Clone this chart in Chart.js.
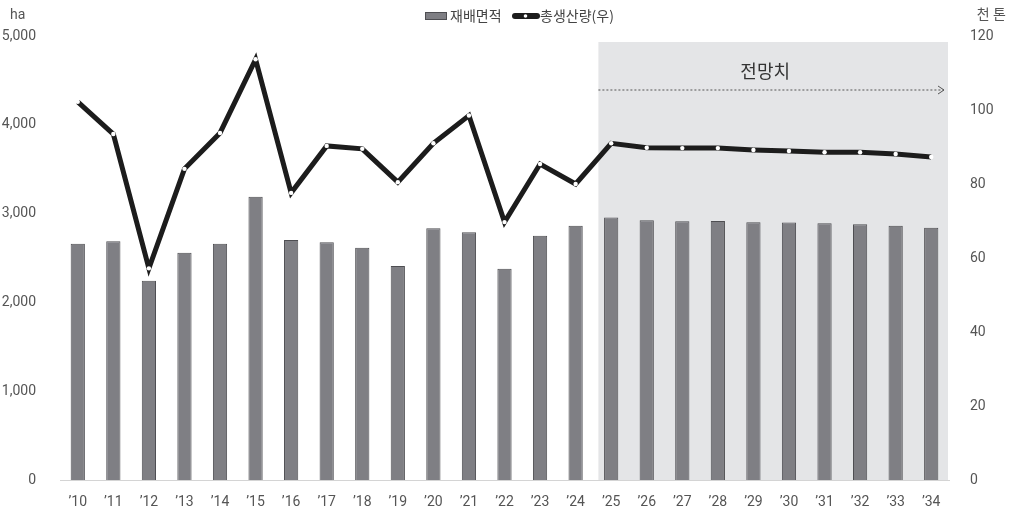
<!DOCTYPE html>
<html>
<head>
<meta charset="utf-8">
<script src="https://cdn.jsdelivr.net/npm/chart.js@4"></script>
<style>
  html, body { margin: 0; padding: 0; background: #fff; }
  #wrap { width: 1017px; height: 508px; }
</style>
</head>
<body>
<div id="wrap"><canvas id="chart1"></canvas></div>
<script>
var years = ["'10", "'11", "'12", "'13", "'14", "'15", "'16", "'17", "'18", "'19", "'20", "'21",
             "'22", "'23", "'24", "'25", "'26", "'27", "'28", "'29", "'30", "'31", "'32", "'33", "'34"]
    .map(function (s) { return s.replace("'", "\u2019"); });

// 재배면적 (ha)
var area = [2660, 2690, 2245, 2560, 2660, 3190, 2703, 2677, 2615, 2410, 2835, 2790,
            2378, 2750, 2862, 2955, 2925, 2915, 2918, 2902, 2900, 2890, 2880, 2862, 2840];

// 총생산량 (천 톤)
var production = [102.2, 93.5, 57.2, 84.1, 93.8, 113.7, 77.6, 90.3, 89.5, 80.5, 91.0, 98.5,
                  69.7, 85.4, 80.0, 91.0, 89.8, 89.7, 89.7, 89.2, 88.9, 88.6, 88.6, 88.1, 87.3];

var forecastFrom = 15;   // '25 부터 전망치
var fontFamily = 'Roboto, "Noto Sans CJK KR", sans-serif';
var textColor = '#555555';

// 전망치 구간 음영 + 화살표, 축 단위, 범례
var decorPlugin = {
    id: 'decor',
    beforeDatasetsDraw: function (chart) {
        var ctx = chart.ctx, x = chart.scales.x, area = chart.chartArea;
        var half = (x.getPixelForValue(1) - x.getPixelForValue(0)) / 2;
        var left = x.getPixelForValue(forecastFrom) - half + 5;
        var right = area.right - 1;
        var top = area.top + 6;
        ctx.save();
        ctx.fillStyle = '#e4e5e7';
        ctx.fillRect(left, top, right - left, area.bottom - top);

        ctx.fillStyle = '#333333';
        ctx.font = '18px "Noto Sans CJK KR", sans-serif';
        ctx.textAlign = 'center';
        ctx.textBaseline = 'middle';
        ctx.fillText('전망치', (left + right) / 2 - 8, top + 29);

        var ay = top + 48;
        ctx.strokeStyle = '#555555';
        ctx.lineWidth = 1;
        ctx.setLineDash([2, 2]);
        ctx.beginPath();
        ctx.moveTo(left, ay);
        ctx.lineTo(right - 4, ay);
        ctx.stroke();
        ctx.setLineDash([]);
        ctx.beginPath();
        ctx.moveTo(right - 10, ay - 4);
        ctx.lineTo(right - 4, ay);
        ctx.lineTo(right - 10, ay + 4);
        ctx.stroke();
        ctx.restore();
    },
    afterDraw: function (chart) {
        var ctx = chart.ctx;
        ctx.save();
        ctx.fillStyle = textColor;
        ctx.font = '14px ' + fontFamily;
        ctx.textBaseline = 'middle';
        ctx.textAlign = 'left';
        ctx.fillText('ha', 10, 15);
        ctx.textAlign = 'right';
        ctx.fillText('천 톤', 1006, 15);

        // 범례
        var ly = 16;
        var ds = chart.data.datasets;
        var bar = ds.filter(function (d) { return d.type === 'bar'; })[0];
        var line = ds.filter(function (d) { return d.type === 'line'; })[0];
        ctx.fillStyle = bar.backgroundColor;
        ctx.strokeStyle = bar.borderColor;
        ctx.lineWidth = 1;
        ctx.fillRect(425, ly - 4, 22, 8);
        ctx.strokeRect(425.5, ly - 3.5, 21, 7);
        ctx.fillStyle = '#444444';
        ctx.textAlign = 'left';
        ctx.font = '14px "Noto Sans CJK KR", sans-serif';
        ctx.fillText(bar.label, 450, ly);

        ctx.strokeStyle = line.borderColor;
        ctx.lineWidth = 6;
        ctx.lineCap = 'round';
        ctx.beginPath();
        ctx.moveTo(515, ly);
        ctx.lineTo(537, ly);
        ctx.stroke();
        ctx.fillStyle = '#ffffff';
        ctx.beginPath();
        ctx.arc(525.5, ly, 1.8, 0, Math.PI * 2);
        ctx.fill();
        ctx.fillStyle = '#444444';
        ctx.fillText(line.label, 540, ly);
        ctx.restore();
    }
};

var chartCanvas1 = document.getElementById('chart1');
var configCanvas1 = {
    type: 'bar',
    data: {
        labels: years,
        datasets: [{
            type: 'line',
            label: '총생산량(우)',
            data: production,
            yAxisID: 'y1',
            borderColor: '#1c1c1c',
            borderWidth: 5,
            tension: 0,
            pointRadius: 2.2,
            pointBorderWidth: 0,
            pointBackgroundColor: '#ffffff',
            order: 0
        }, {
            type: 'bar',
            label: '재배면적',
            data: area,
            yAxisID: 'y',
            backgroundColor: '#7f7f84',
            borderColor: '#4e4e52',
            borderWidth: 1,
            categoryPercentage: 1,
            barPercentage: 0.4,
            order: 1
        }]
    },
    options: {
        responsive: true,
        maintainAspectRatio: false,
        animation: false,
        layout: { padding: { top: 36, left: 0, right: 0, bottom: 0 } },
        plugins: {
            legend: { display: false },
            tooltip: { enabled: false }
        },
        scales: {
            x: {
                grid: { display: false },
                border: { display: true, color: '#d4d4d4', width: 1 },
                ticks: { color: textColor, font: { family: fontFamily, size: 14 }, padding: 6, maxRotation: 0, autoSkip: false },
                afterFit: function (s) { s.height = 28; }
            },
            y: {
                position: 'left',
                min: 0, max: 5000,
                grid: { display: false },
                border: { display: false },
                ticks: {
                    stepSize: 1000, color: textColor, padding: 16,
                    font: { family: fontFamily, size: 14 },
                    callback: function (v) { return v.toLocaleString('en-US'); }
                },
                afterFit: function (s) { s.width = 60; }
            },
            y1: {
                position: 'right',
                min: 0, max: 120,
                grid: { display: false },
                border: { display: false },
                ticks: { stepSize: 20, color: textColor, padding: 13, font: { family: fontFamily, size: 14 } },
                afterFit: function (s) { s.width = 68; }
            }
        }
    },
    plugins: [decorPlugin]
};

var myChart1 = new Chart(chartCanvas1, configCanvas1);
</script>
</body>
</html>
